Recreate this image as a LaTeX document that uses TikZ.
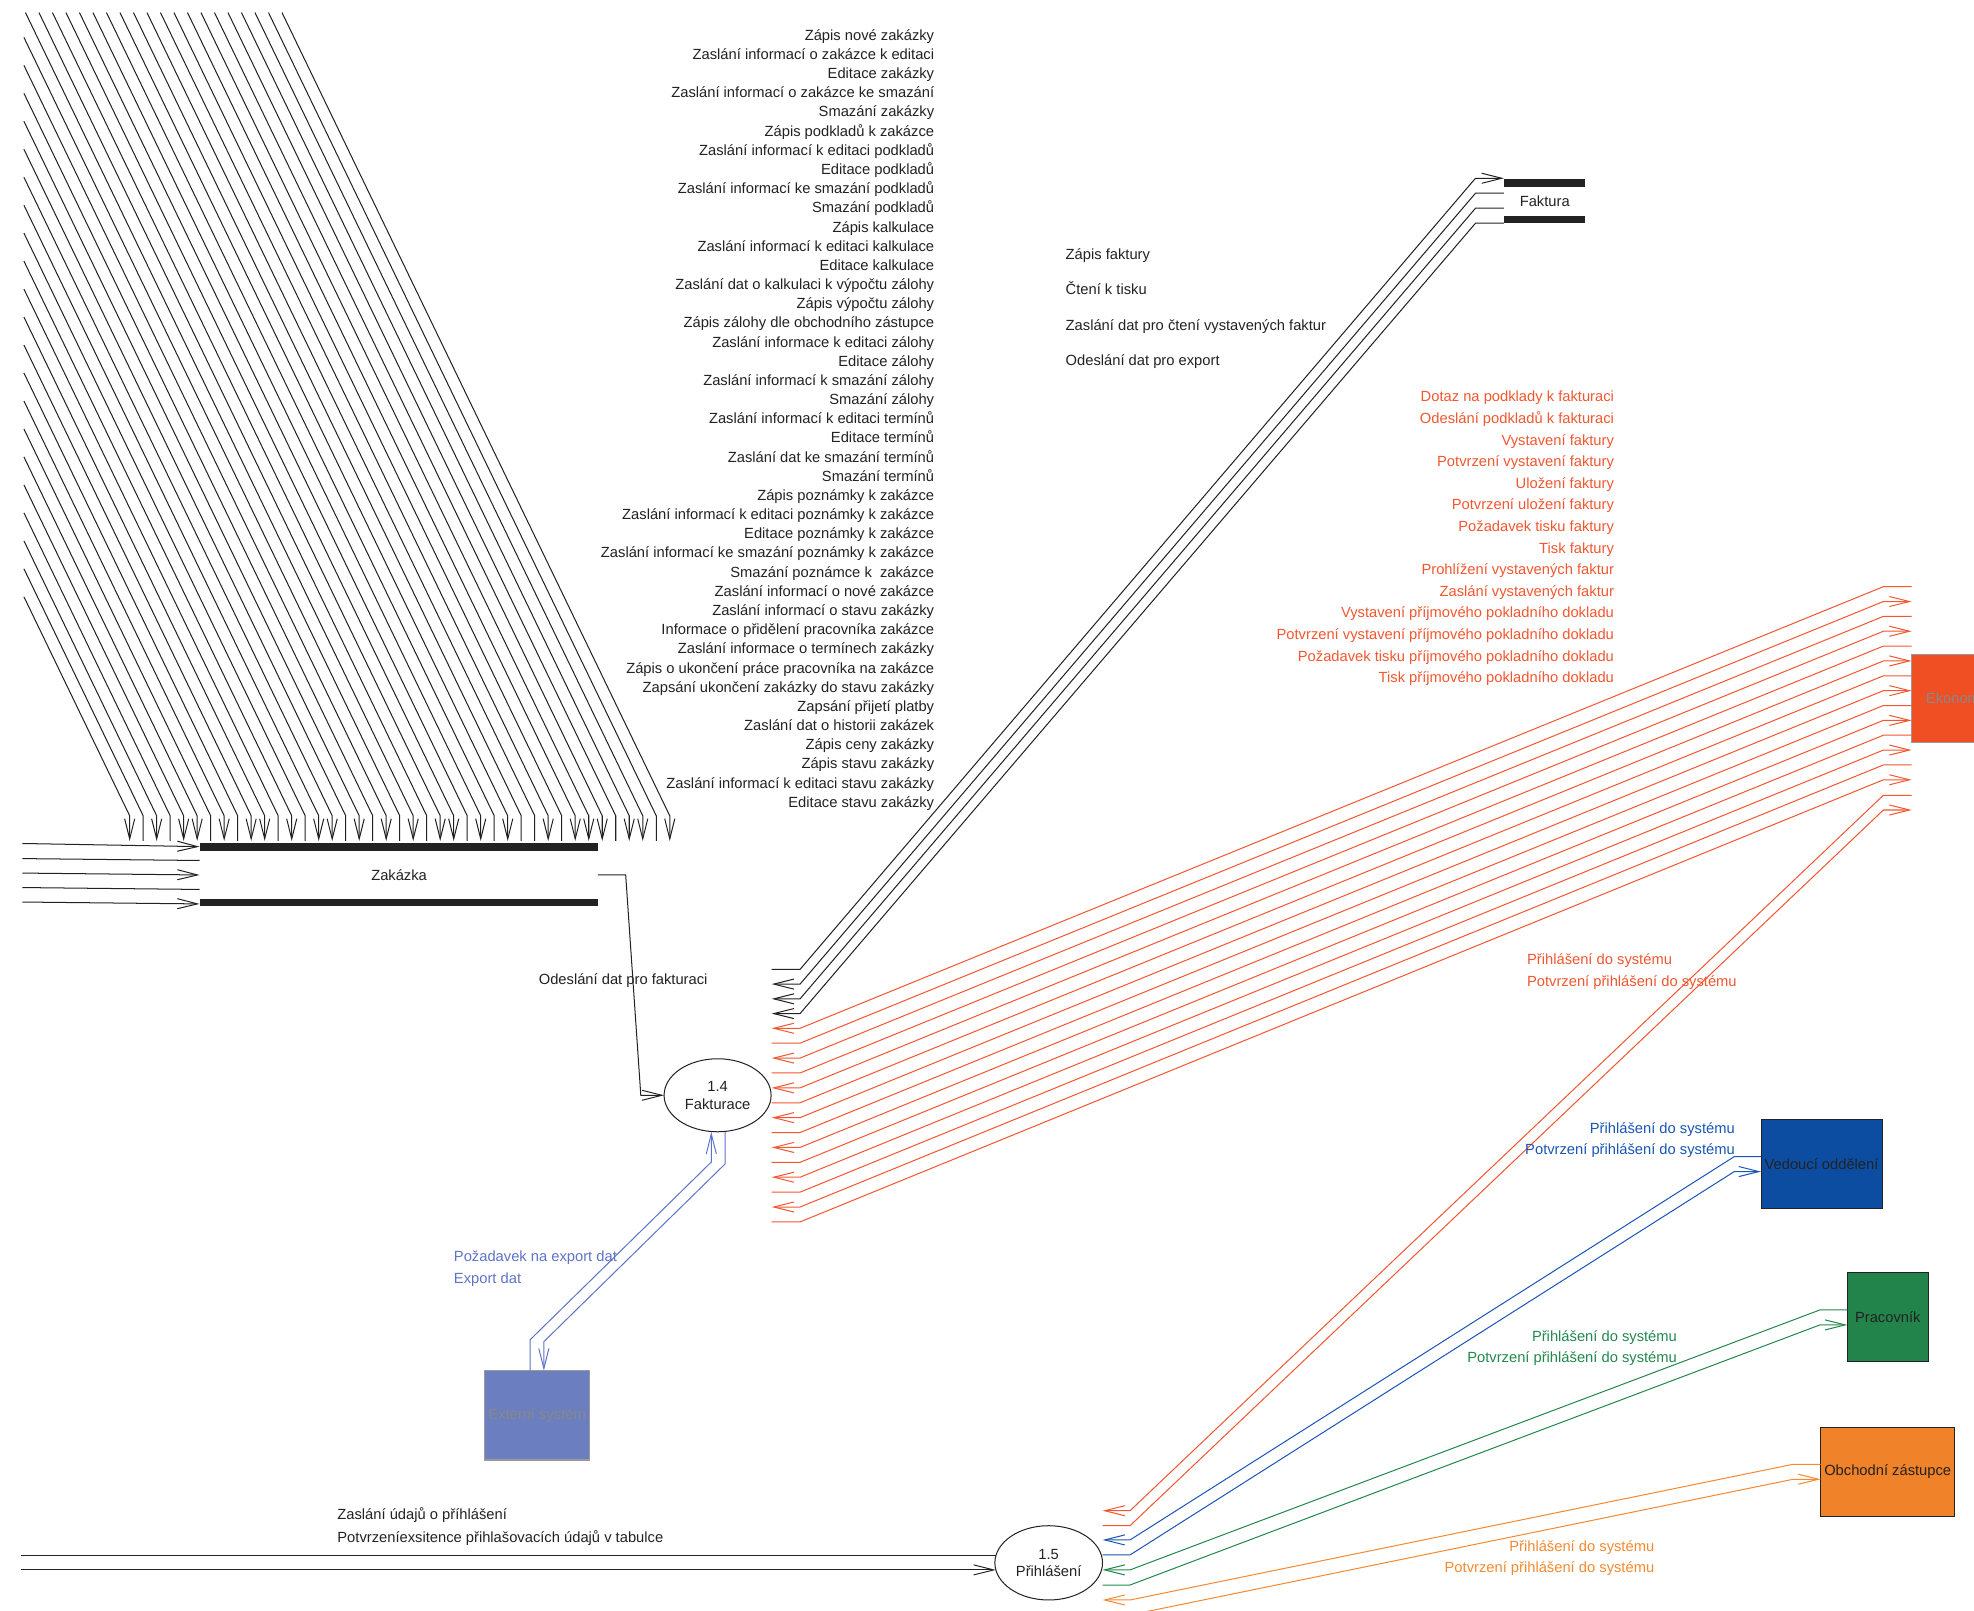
\documentclass[tikz,border=0pt]{standalone}
\usepackage{fontspec}
\setmainfont{Liberation Sans}
\usetikzlibrary{arrows.meta,shapes.geometric}

\definecolor{ink}{HTML}{222222}
\definecolor{ekored}{HTML}{F04E23}
\definecolor{redflow}{HTML}{F25730}
\definecolor{vedblue}{HTML}{0C4DA2}
\definecolor{blueflow}{HTML}{1A56B5}
\definecolor{pracgreen}{HTML}{22844A}
\definecolor{greenflow}{HTML}{23884E}
\definecolor{obchorange}{HTML}{F0822A}
\definecolor{orangeflow}{HTML}{F48A30}
\definecolor{extblue}{HTML}{6B7EBF}
\definecolor{extflow}{HTML}{5E74C8}
\definecolor{paletext}{HTML}{888888}
\definecolor{frame}{HTML}{9A9A9A}

\begin{document}
\begin{tikzpicture}[x=1pt,y=-1pt,
  every node/.style={inner sep=0pt, outer sep=0pt},
  lbl/.style={font=\fontsize{11.7}{14}\selectfont, text=ink},
  flow/.style={line width=0.8pt, draw=ink},
  tip/.style={-{Straight Barb[length=16pt,width=8pt,line width=0.8pt]}},
  arr0/.style={},
  arr1/.style={tip},
  storebar/.style={line width=6pt, draw=ink},
  entity/.style={rectangle, draw=ink, line width=0.8pt, text=ink,
    font=\fontsize{11.7}{14}\selectfont},
  process/.style={ellipse, draw=ink, line width=0.8pt, align=center, text=ink,
    font=\fontsize{11.7}{14}\selectfont}
]
\useasboundingbox (0,0) rectangle (1568,1279);
\fill[white] (0,0) rectangle (1568,1279);
\clip (0,0) rectangle (1568,1279);

% ---------- processes ----------
\node[process, minimum width=85pt, minimum height=58pt] (fakt) at (570,870) {1.4\\Fakturace};
\node[process, minimum width=85.5pt, minimum height=59pt] (prih) at (833,1241.4) {1.5\\Přihlášení};

% ---------- data stores ----------
\draw[storebar] (158.5,673) -- (475,673);
\draw[storebar] (158.5,717) -- (475,717);
\node[lbl] (zak) at (317,695) {Zakázka};

\draw[storebar] (1194.6,145.2) -- (1259,145.2);
\draw[storebar] (1194.6,174.5) -- (1259,174.5);
\node[lbl] (fstore) at (1227,160) {Faktura};

% ---------- external entities ----------
\fill[ekored, draw=frame, line width=0.8pt] (1518.4,519.5) rectangle (1660,590);
\node[lbl, anchor=west, text=paletext] (ekon) at (1529.8,554.7) {Ekonomické oddělení};
\node[entity, fill=vedblue, minimum width=96.2pt, minimum height=70.8pt] (ved) at (1446.9,924.4) {Vedoucí oddělení};
\node[entity, fill=pracgreen, minimum width=64.4pt, minimum height=70.7pt] (prac) at (1499.5,1046.2) {Pracovník};
\node[entity, fill=obchorange, minimum width=106.7pt, minimum height=70.6pt] (obch) at (1499.45,1169.3) {Obchodní zástupce};
\node[entity, fill=extblue, draw=frame, text=paletext, minimum width=83.9pt, minimum height=71pt] (ext) at (426.65,1124.2) {Externí systém};

% ---------- flows into the Zakázka store from above ----------
\foreach \i/\a in {0/1,1/0,2/1,3/0,4/1,5/1,6/0,7/1,8/0,9/1,10/1,11/0,12/1,13/0,14/1,
                   15/1,16/0,17/1,18/0,19/1,20/0,21/1,22/0,23/1,24/1,25/0,26/1,27/0,
                   28/1,29/0,30/0,31/1,32/0,33/1,34/1,35/1,36/0,37/1,38/1,39/0,40/1} {
  \pgfmathsetmacro{\xb}{103+10.725*\i}
  \pgfmathsetmacro{\xs}{max(\xb-308,19)}
  \pgfmathsetmacro{\ys}{648-(\xb-\xs)/0.48276}
  \draw[flow, arr\a] (\xs,\ys) -- (\xb,648) -- (\xb,668);
}

\foreach \t [count=\n from 0] in {
  Zápis nové zakázky,
  Zaslání informací o zakázce k editaci,
  Editace zakázky,
  Zaslání informací o zakázce ke smazání,
  Smazání zakázky,
  Zápis podkladů k zakázce,
  Zaslání informací k editaci podkladů,
  Editace podkladů,
  Zaslání informací ke smazání podkladů,
  Smazání podkladů,
  Zápis kalkulace,
  Zaslání informací k editaci kalkulace,
  Editace kalkulace,
  Zaslání dat o kalkulaci k výpočtu zálohy,
  Zápis výpočtu zálohy,
  Zápis zálohy dle obchodního zástupce,
  Zaslání informace k editaci zálohy,
  Editace zálohy,
  Zaslání informací k smazání zálohy,
  Smazání zálohy,
  Zaslání informací k editaci termínů,
  Editace termínů,
  Zaslání dat ke smazání termínů,
  Smazání termínů,
  Zápis poznámky k zakázce,
  Zaslání informací k editaci poznámky k zakázce,
  Editace poznámky k zakázce,
  Zaslání informací ke smazání poznámky k zakázce,
  Smazání poznámce k~ zakázce,
  Zaslání informací o nové zakázce,
  Zaslání informací o stavu zakázky,
  Informace o přidělení pracovníka zakázce,
  Zaslání informace o termínech zakázky,
  Zápis o ukončení práce pracovníka na zakázce,
  Zapsání ukončení zakázky do stavu zakázky,
  Zapsání přijetí platby,
  Zaslání dat o historii zakázek,
  Zápis ceny zakázky,
  Zápis stavu zakázky,
  Zaslání informací k editaci stavu zakázky,
  Editace stavu zakázky} {
  \node[lbl, anchor=base east] (z\n) at (742,32+15.23*\n) {\t};
}

% ---------- flows entering the Zakázka store from the left ----------
\draw[flow, tip] (17.7,670) -- (158.5,672.5);
\draw[flow] (158.5,683.5) -- (17.7,682);
\draw[flow, tip] (17.7,693.5) -- (158.5,695);
\draw[flow] (158.5,706.5) -- (17.7,705);
\draw[flow, tip] (17.7,716.5) -- (158.5,718);

% ---------- Zakázka -> Fakturace ----------
\draw[flow, tip] (475,695) -- (497,695) -- (509,870) -- (fakt.west);
\node[lbl, anchor=base west] (lzf) at (428,782) {Odeslání dat pro fakturaci};

% ---------- Fakturace <-> Faktura ----------
\draw[flow, tip] (613,770) -- (635.5,770) -- (1172,141.6) -- (1194.6,141.6);
\foreach \j in {1,2,3} {
  \pgfmathsetmacro{\yl}{770+11.7*\j}
  \pgfmathsetmacro{\yr}{141.6+11.9*\j}
  \draw[flow, tip] (1194.6,\yr) -- (1172,\yr) -- (635.5,\yl) -- (613,\yl);
}
\node[lbl, anchor=base west] (f1) at (846.5,206.2) {Zápis faktury};
\node[lbl, anchor=base west] (f2) at (846.5,234.2) {Čtení k tisku};
\node[lbl, anchor=base west] (f3) at (846.5,262.2) {Zaslání dat pro čtení vystavených faktur};
\node[lbl, anchor=base west] (f4) at (846.5,290.2) {Odeslání dat pro export};

% ---------- Fakturace <-> Ekonomické oddělení ----------
\foreach \k in {0,...,13} {
  \pgfmathsetmacro{\yl}{816.8+11.83*\k}
  \pgfmathsetmacro{\yr}{466+11.8*\k}
  \ifodd\k\relax
    \draw[flow, draw=redflow, tip] (613,\yl) -- (635.5,\yl) -- (1496,\yr) -- (1518.4,\yr);
  \else
    \draw[flow, draw=redflow, tip] (1518.4,\yr) -- (1496,\yr) -- (635.5,\yl) -- (613,\yl);
  \fi
}
\foreach \t [count=\n from 0] in {
  Dotaz na podklady k fakturaci,
  Odeslání podkladů k fakturaci,
  Vystavení faktury,
  Potvrzení vystavení faktury,
  Uložení faktury,
  Potvrzení uložení faktury,
  Požadavek tisku faktury,
  Tisk faktury,
  Prohlížení vystavených faktur,
  Zaslání vystavených faktur,
  Vystavení příjmového pokladního dokladu,
  Potvrzení vystavení příjmového pokladního dokladu,
  Požadavek tisku příjmového pokladního dokladu,
  Tisk příjmového pokladního dokladu} {
  \node[lbl, text=redflow, anchor=base east] (e\n) at (1282,319.2+17.16*\n) {\t};
}

% ---------- Fakturace <-> Externí systém ----------
\draw[flow, draw=extflow, tip] (421,1088.7) -- (421,1064.3) -- (565,923) -- (565,899);
\draw[flow, draw=extflow, tip] (576,899) -- (576,924.5) -- (432,1065.7) -- (432,1088.7);
\node[lbl, text=extflow, anchor=base west] (x1) at (360.6,1001.8) {Požadavek na export dat};
\node[lbl, text=extflow, anchor=base west] (x2) at (360.6,1019.6) {Export dat};

% ---------- login flows into Přihlášení ----------
\draw[flow] (791,1235.3) -- (17,1235.3);
\draw[flow, tip] (17,1247) -- (791,1247);
\node[lbl, anchor=base west] (p1) at (268,1207.2) {Zaslání údajů o příhlášení};
\node[lbl, anchor=base west] (p2) at (268,1225.2) {Potvrzeníexsitence přihlašovacích údajů v tabulce};

% red
\draw[flow, draw=redflow, tip] (1518.4,631.7) -- (1496,631.7) -- (897.6,1200) -- (875.8,1200);
\draw[flow, draw=redflow, tip] (875.8,1211.9) -- (897.6,1211.9) -- (1496,643.4) -- (1518.4,643.4);
\node[lbl, text=redflow, anchor=base west] (r1) at (1213,766.2) {Přihlášení do systému};
\node[lbl, text=redflow, anchor=base west] (r2) at (1213,783.2) {Potvrzení přihlášení do systému};

% blue
\draw[flow, draw=blueflow, tip] (ved.west |- 0,918.7) -- (1377.6,918.7) -- (897.6,1223.2) -- (875.8,1223.2);
\draw[flow, draw=blueflow, tip] (875.8,1235.1) -- (897.6,1235.1) -- (1377.6,930.6) -- (ved.west |- 0,930.6);
\node[lbl, text=blueflow, anchor=base east] (v1) at (1378,900.4) {Přihlášení do systému};
\node[lbl, text=blueflow, anchor=base east] (v2) at (1378,916.9) {Potvrzení přihlášení do systému};

% green
\draw[flow, draw=greenflow, tip] (prac.west |- 0,1040.5) -- (1445.6,1040.5) -- (897.6,1247) -- (875.8,1247);
\draw[flow, draw=greenflow, tip] (875.8,1259) -- (897.6,1259) -- (1445.6,1052.4) -- (prac.west |- 0,1052.4);
\node[lbl, text=greenflow, anchor=base east] (g1) at (1332,1065.2) {Přihlášení do systému};
\node[lbl, text=greenflow, anchor=base east] (g2) at (1332,1082.2) {Potvrzení přihlášení do systému};

% orange
\draw[flow, draw=orangeflow, tip] (obch.west |- 0,1163.1) -- (1424.4,1163.1) -- (897.6,1270.9) -- (875.8,1270.9);
\draw[flow, draw=orangeflow, tip] (875.8,1282.8) -- (897.6,1282.8) -- (1424.4,1175) -- (obch.west |- 0,1175);
\node[lbl, text=orangeflow, anchor=base east] (o1) at (1314,1232.2) {Přihlášení do systému};
\node[lbl, text=orangeflow, anchor=base east] (o2) at (1314,1249.2) {Potvrzení přihlášení do systému};

\end{tikzpicture}
\end{document}
